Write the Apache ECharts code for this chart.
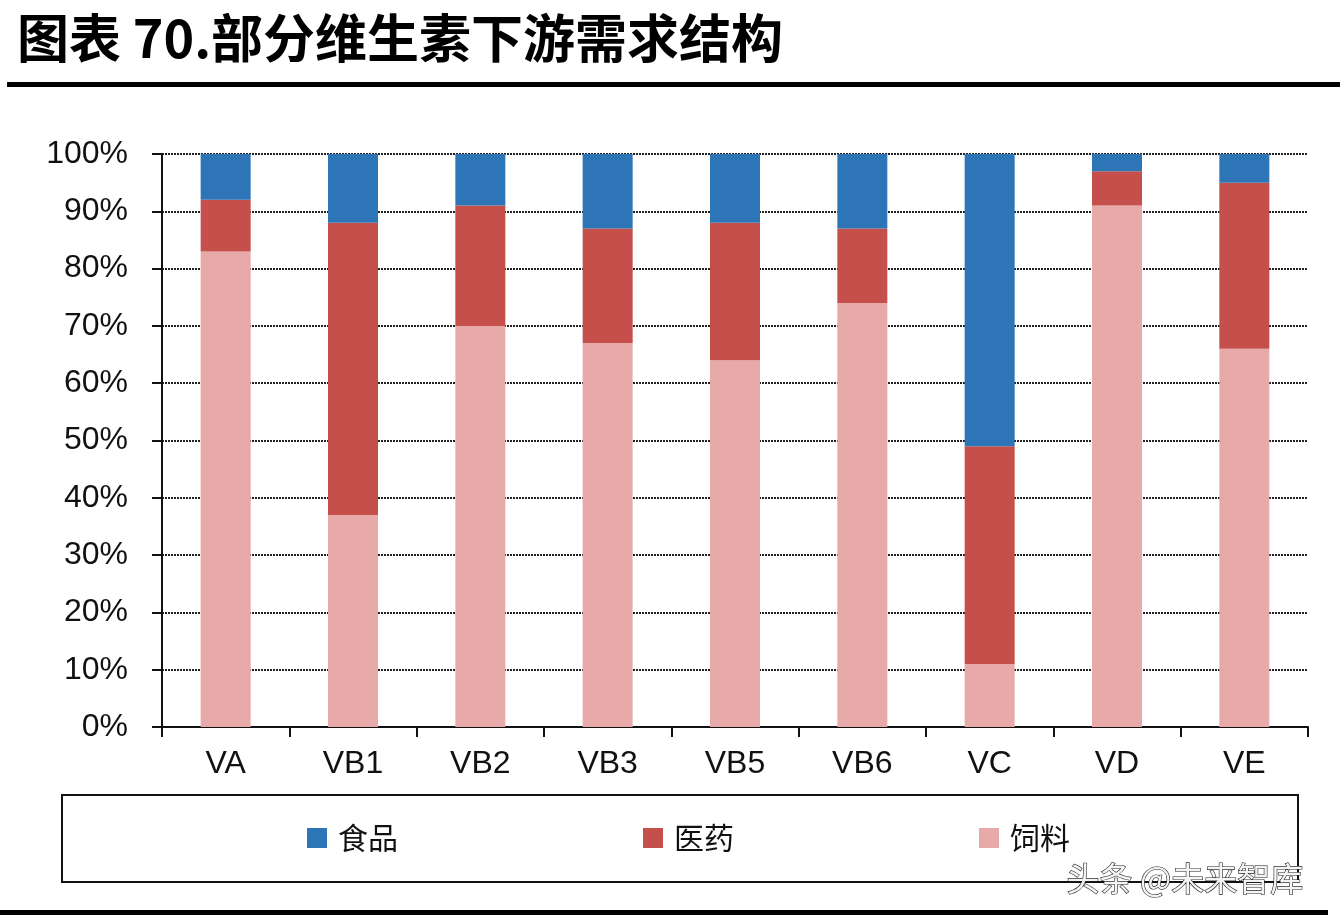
<!DOCTYPE html>
<html>
<head>
<meta charset="utf-8">
<script src="https://cdn.jsdelivr.net/npm/echarts@6/dist/echarts.min.js"></script>
<style>
  html, body { margin: 0; padding: 0; background: #fff; }
  #main { width: 1340px; height: 924px; }
</style>
</head>
<body>
<div id="main"></div>
<script>
// 数据
var categories = ['VA', 'VB1', 'VB2', 'VB3', 'VB5', 'VB6', 'VC', 'VD', 'VE'];
var feedShare = [83, 37, 70, 67, 64, 74, 11, 91, 66];     // 饲料
var pharmaShare = [9, 51, 21, 20, 24, 13, 38, 6, 29];     // 医药
var foodShare = [8, 12, 9, 13, 12, 13, 51, 3, 5];         // 食品
var legendNames = ['食品', '医药', '饲料'];
var yTicks = [0, 10, 20, 30, 40, 50, 60, 70, 80, 90, 100];

var myChart = echarts.init(document.getElementById('main'));
var option = {
    backgroundColor: '#fff',
    textStyle: { fontFamily: '"Liberation Sans", Arial, sans-serif' },
    graphic: [
        {   // 标题
            type: 'text', left: 17, top: 12,
            style: {
                text: '图表 70.部分维生素下游需求结构',
                font: 'bold 52px "Noto Sans CJK SC"',
                fill: '#000'
            }
        },
        {   // 标题下粗线
            type: 'rect', shape: { x: 7, y: 82, width: 1333, height: 5 },
            style: { fill: '#000' }
        },
        {   // 图例框
            type: 'rect', shape: { x: 62, y: 795, width: 1236, height: 87 },
            style: { fill: 'none', stroke: '#111', lineWidth: 2 }
        },
        {   // 底部粗线
            type: 'rect', shape: { x: 0, y: 910, width: 1328, height: 5 },
            style: { fill: '#000' }
        },
        {   // 水印
            type: 'text', left: 1066, top: 861, z: 100,
            style: {
                text: '头条 @未来智库',
                font: '33px "Noto Sans CJK SC"',
                fill: '#f4f4f4',
                stroke: '#222',
                lineWidth: 1.2
            }
        }
    ],
    legend: {
        data: legendNames,
        left: 302,
        top: 818,
        itemWidth: 20,
        itemHeight: 20,
        itemGap: 245,
        icon: 'rect',
        textStyle: {
            fontFamily: '"Noto Sans CJK SC"',
            fontSize: 30,
            color: '#111',
            padding: [0, 0, 0, 6]
        }
    },
    grid: { left: 162, right: 32, top: 154, bottom: 197 },
    xAxis: {
        type: 'category',
        data: categories,
        axisLine: { lineStyle: { color: '#111', width: 2 } },
        axisTick: { show: true, length: 10, lineStyle: { color: '#111', width: 2 } },
        axisLabel: { fontSize: 32, color: '#111', margin: 21 }
    },
    yAxis: {
        type: 'value',
        min: 0,
        max: 100,
        interval: 10,
        axisLine: { show: true, lineStyle: { color: '#111', width: 2 } },
        axisTick: { show: true, length: 10, lineStyle: { color: '#111', width: 2 } },
        axisLabel: {
            fontSize: 32, color: '#111', margin: 34,
            formatter: function (v) { return yTicks.indexOf(v) >= 0 ? v + '%' : ''; }
        },
        splitLine: { show: true, lineStyle: { color: '#222', width: 2, type: [2, 1] } }
    },
    series: [
        { name: '饲料', type: 'bar', stack: 'all', barWidth: 50, data: feedShare,
          itemStyle: { color: '#e8aaa9' } },
        { name: '医药', type: 'bar', stack: 'all', barWidth: 50, data: pharmaShare,
          itemStyle: { color: '#c54f4b' } },
        { name: '食品', type: 'bar', stack: 'all', barWidth: 50, data: foodShare,
          itemStyle: { color: '#2e75b8' } }
    ]
};
myChart.setOption(option);
</script>
</body>
</html>
